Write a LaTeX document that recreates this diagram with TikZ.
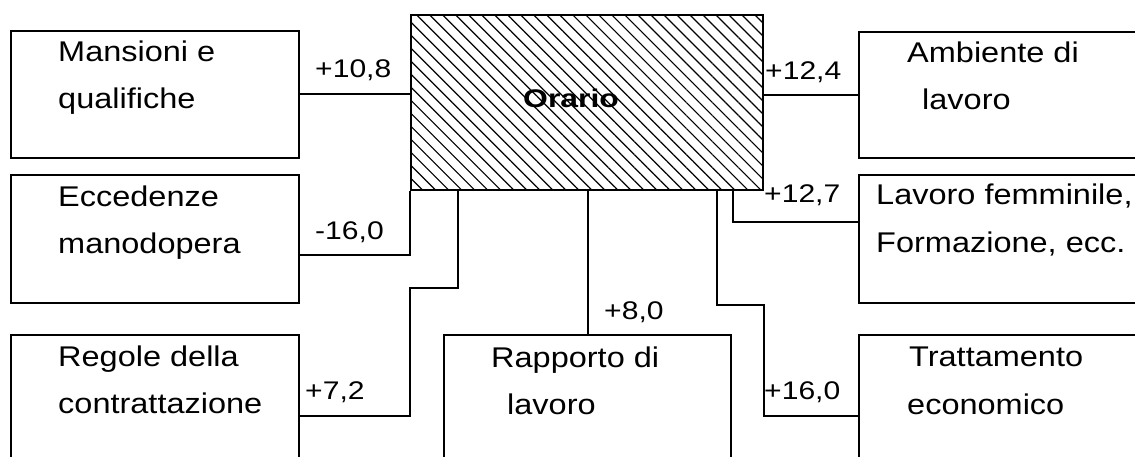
\documentclass[tikz,border=0pt]{standalone}
\usepackage{fontspec}
\usetikzlibrary{patterns.meta}
\newfontfamily\bodyfont[FakeStretch=1.14]{Liberation Sans}
\newfontfamily\valfont[FakeStretch=1.18]{Liberation Sans}
\newfontfamily\headfont[FakeStretch=1.25]{Liberation Sans}

\begin{document}
\begin{tikzpicture}[x=1bp,y=-1bp,
  box/.style={draw, line width=2bp, inner sep=0, minimum width=288bp},
  link/.style={line width=2bp},
  txt/.style={anchor=base west, inner sep=0, font=\bodyfont\fontsize{28.5bp}{34bp}\selectfont},
  val/.style={anchor=base west, inner sep=0, font=\valfont\fontsize{25.5bp}{30bp}\selectfont},
  head/.style={anchor=base west, inner sep=0, font=\headfont\bfseries\fontsize{25.5bp}{30bp}\selectfont}]

\clip (0,0) rectangle (1135,457);

% central hatched box
\node[box, minimum width=352bp, minimum height=175bp,
      pattern={Lines[angle=-45, distance=9.2bp, line width=1.2bp]}] (C) at (587,102.5) {};
\node[head] (tC) at (523,108) {Orario};

% left column
\node[box, minimum height=127bp] (L1) at (155,94.5) {};
\node[box, minimum height=128bp] (L2) at (155,239) {};
\node[box, minimum height=162bp] (L3) at (155,416) {};

% bottom middle
\node[box, minimum width=287bp, minimum height=162bp] (M) at (587.5,416) {};

% right column (runs past the right edge)
\node[box, minimum width=291bp, minimum height=126bp] (R1) at (1004.5,95) {};
\node[box, minimum width=291bp, minimum height=128bp] (R2) at (1004.5,239) {};
\node[box, minimum width=291bp, minimum height=162bp] (R3) at (1004.5,416) {};

% box texts
\node[txt] (tL1a) at (58,62)  {Mansioni e};
\node[txt] (tL1b) at (58,109) {qualifiche};
\node[txt] (tL2a) at (58,207) {Eccedenze};
\node[txt] (tL2b) at (58,254) {manodopera};
\node[txt] (tL3a) at (58,367) {Regole della};
\node[txt] (tL3b) at (58,414) {contrattazione};
\node[txt] (tMa)  at (491,368) {Rapporto di};
\node[txt] (tMb)  at (507,415) {lavoro};
\node[txt] (tR1a) at (907,63)  {Ambiente di};
\node[txt] (tR1b) at (922,110) {lavoro};
\node[txt] (tR2a) at (876,205) {Lavoro femminile,};
\node[txt] (tR2b) at (876,253) {Formazione, ecc.};
\node[txt] (tR3a) at (909,367) {Trattamento};
\node[txt] (tR3b) at (907,415) {economico};

% connectors
\draw[link] (L1.east) -- (L1.east -| C.west);
\draw[link] (C.south west) |- ([yshift=-16bp]L2.east);
\draw[link] ([xshift=48bp]C.south west) |- ([yshift=-97bp]C.south west) |- (L3.east);
\draw[link] (C.south -| M.north) -- (M.north);
\draw[link] (R1.west) -- (R1.west -| C.east);
\draw[link] ([xshift=-31bp]C.south east) |- ([yshift=17bp]R2.west);
\draw[link] ([xshift=-47bp]C.south east) |- ([yshift=-114bp]C.south east) |- (R3.west);

% values on the connectors
\node[val] (v1) at (315,78)  {+10,8};
\node[val] (v2) at (315,240) {-16,0};
\node[val] (v3) at (305,400) {+7,2};
\node[val] (v4) at (604,320) {+8,0};
\node[val] (v5) at (765,80)  {+12,4};
\node[val] (v6) at (764,203) {+12,7};
\node[val] (v7) at (764,400) {+16,0};
\end{tikzpicture}
\end{document}
